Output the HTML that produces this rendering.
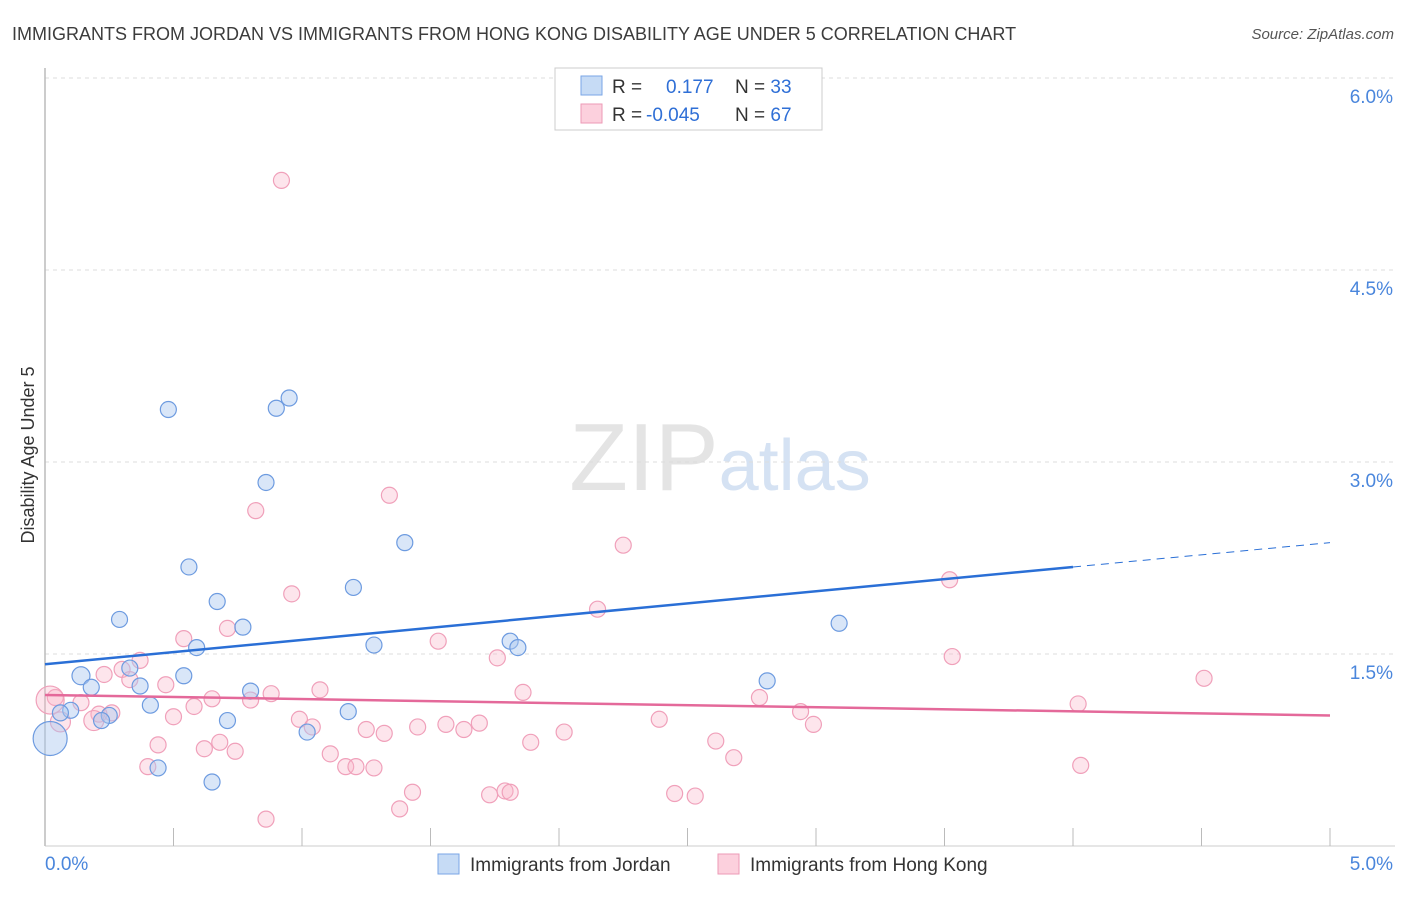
<!DOCTYPE html>
<html><head><meta charset="utf-8"><style>
body{margin:0;background:#fff;font-family:"Liberation Sans",sans-serif;}
svg text{font-family:"Liberation Sans",sans-serif;}
</style></head><body>
<svg id="chart" width="1406" height="892" viewBox="0 0 1406 892" xmlns="http://www.w3.org/2000/svg">
<text x="12" y="40" font-size="18" fill="#3c3c3c">IMMIGRANTS FROM JORDAN VS IMMIGRANTS FROM HONG KONG DISABILITY AGE UNDER 5 CORRELATION CHART</text>
<text x="1394" y="39" font-size="15" fill="#555" font-style="italic" text-anchor="end">Source: ZipAtlas.com</text>
<text x="720" y="490" font-size="96" fill="#e4e4e4" text-anchor="middle" font-family="Liberation Serif">ZIP<tspan fill="#d5e2f3" font-family="Liberation Sans" font-size="72">atlas</tspan></text>
<g id="grid"></g>
<line x1="45" y1="68" x2="45" y2="846" stroke="#bbb" stroke-width="1.5"/>
<line x1="45" y1="846" x2="1395" y2="846" stroke="#ccc"/>
<text transform="translate(34,455) rotate(-90)" font-size="18" fill="#333" text-anchor="middle">Disability Age Under 5</text>
<g id="ticks"></g>
<g id="points"></g>
<g id="trends"></g>
<g>
<rect x="555" y="68" width="267" height="62" fill="#fff" stroke="#ccc"/>
<rect x="581" y="76" width="21" height="19" fill="#c6dbf5" stroke="#7aa6e6"/>
<rect x="581" y="104" width="21" height="19" fill="#fcd0dd" stroke="#ec9ab6"/>
<text x="612" y="93" font-size="19" fill="#333">R = <tspan x="666" fill="#2f6fd6">0.177</tspan><tspan x="735" fill="#333">N = </tspan><tspan fill="#2f6fd6">33</tspan></text>
<text x="612" y="121" font-size="19" fill="#333">R = <tspan x="646" fill="#2f6fd6">-0.045</tspan><tspan x="735" fill="#333">N = </tspan><tspan fill="#2f6fd6">67</tspan></text>
</g>
<g>
<rect x="438" y="854" width="21" height="20" fill="#c6dbf5" stroke="#7aa6e6"/>
<text x="470" y="871" font-size="19" fill="#333">Immigrants from Jordan</text>
<rect x="718" y="854" width="21" height="20" fill="#fcd0dd" stroke="#ec9ab6"/>
<text x="750" y="871" font-size="19" fill="#333">Immigrants from Hong Kong</text>
</g>
</svg>
<script>
const yTicks=[1.5,3.0,4.5,6.0];
const xTickLabels=["0.0%","5.0%"];
const jordanX=[0.48,0.9,0.95,0.86,1.4,0.56,0.67,1.2,0.29,0.77,0.59,1.28,1.81,1.84,3.09,0.14,0.54,0.18,0.37,0.33,0.8,0.41,0.1,0.06,0.25,0.22,0.71,1.18,1.02,2.81,0.44,0.65,0.02];
const jordanY=[3.41,3.42,3.5,2.84,2.37,2.18,1.91,2.02,1.77,1.71,1.55,1.57,1.6,1.55,1.74,1.33,1.33,1.24,1.25,1.39,1.21,1.10,1.06,1.04,1.02,0.98,0.98,1.05,0.89,1.29,0.61,0.50,0.84];
const hkX=[0.92,1.34,0.82,2.25,0.96,3.52,2.15,0.71,0.54,1.53,1.76,3.53,0.37,0.23,0.3,0.33,0.47,0.65,0.88,1.07,1.86,2.78,4.51,4.02,0.04,0.14,0.21,0.26,0.5,0.58,0.8,0.99,1.04,1.56,1.45,1.63,1.69,1.32,1.25,2.39,2.94,2.99,2.02,0.44,0.62,0.68,0.74,1.11,1.89,2.61,2.68,0.4,1.17,1.21,1.28,4.03,1.43,1.73,1.79,1.81,2.45,2.53,1.38,0.86,0.19,0.06,0.02];
const hkY=[5.2,2.74,2.62,2.35,1.97,2.08,1.85,1.70,1.62,1.60,1.47,1.48,1.45,1.34,1.38,1.30,1.26,1.15,1.19,1.22,1.20,1.16,1.31,1.11,1.16,1.12,1.03,1.04,1.01,1.09,1.14,0.99,0.93,0.95,0.93,0.91,0.96,0.88,0.91,0.99,1.05,0.95,0.89,0.79,0.76,0.81,0.74,0.72,0.81,0.82,0.69,0.62,0.62,0.62,0.61,0.63,0.42,0.40,0.43,0.42,0.41,0.39,0.29,0.21,0.98,0.97,1.14];
const jordanR=[8,8,8,8,8,8,8,8,8,8,8,8,8,8,8,9,8,8,8,8,8,8,8,8,8,8,8,8,8,8,8,8,17];
const X=v=>45+v*257, Y=v=>846-v*128;
const NS="http://www.w3.org/2000/svg";
function mk(t,a,p){const e=document.createElementNS(NS,t);for(const k in a)e.setAttribute(k,a[k]);p.appendChild(e);return e;}
const grid=document.getElementById('grid'),ticks=document.getElementById('ticks');
yTicks.forEach(v=>{
const l=mk('line',{x1:45,x2:1395,y1:Y(v),y2:Y(v),stroke:'#ddd','stroke-dasharray':'4,4'},grid);


const t=mk('text',{x:1393,y:Y(v)+25,'font-size':19,fill:'#4a86dc','text-anchor':'end'},ticks);
t.textContent=v.toFixed(1)+'%';


});
for(let i=0;i<=10;i++){const l=mk('line',{x1:X(i*0.5),x2:X(i*0.5),y1:828,y2:846,stroke:'#bbb'},ticks);

}
xTickLabels.forEach((s,i)=>{const t=mk('text',{x:i?1393:45,y:870,'font-size':19,fill:'#4a86dc','text-anchor':i?'end':'start'},ticks);t.textContent=s;

});
const pts=document.getElementById('points');
hkX.forEach((x,i)=>{const r=i>=hkX.length-1?14:(i>=hkX.length-3?10:8);const c=mk('circle',{cx:X(x),cy:Y(hkY[i]),r:r,fill:'rgba(248,180,200,0.35)',stroke:'#f0a0ba','stroke-width':1.2},pts);

});
jordanX.forEach((x,i)=>{const c=mk('circle',{cx:X(x),cy:Y(jordanY[i]),r:jordanR[i],fill:'rgba(170,200,240,0.45)',stroke:'#6d9be0','stroke-width':1.2},pts);

});
const tr=document.getElementById('trends');
const bl=mk('line',{x1:X(0),y1:Y(1.42),x2:X(4.0),y2:Y(2.18),stroke:'#2a6fd6','stroke-width':2.5},tr);


const bd=mk('line',{x1:X(4.0),y1:Y(2.18),x2:X(5.0),y2:Y(2.37),stroke:'#2a6fd6','stroke-width':1,'stroke-dasharray':'8,6'},tr);


const pl=mk('line',{x1:X(0),y1:Y(1.18),x2:X(5.0),y2:Y(1.02),stroke:'#e4699a','stroke-width':2.5},tr);


</script>
</body></html>
